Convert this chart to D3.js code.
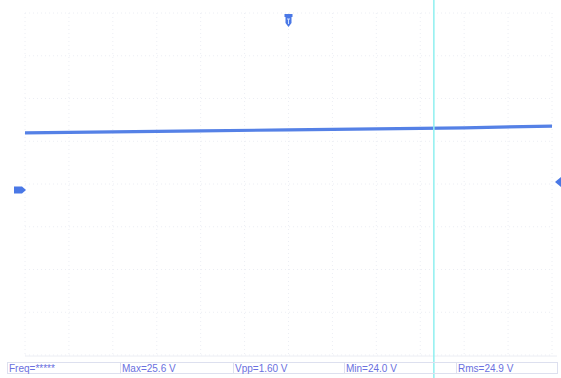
<!DOCTYPE html>
<html>
<head>
<meta charset="utf-8">
<script src="https://cdn.jsdelivr.net/npm/d3@7"></script>
<style>
  html, body { margin: 0; padding: 0; background: #fff; }
  svg { display: block; }
</style>
</head>
<body>
<div id="scope"></div>
<script>
// trace samples: time in divisions, level in volts (20 V/div, ground at marker)
const traceTime = [0, 2, 4, 6, 8, 10, 12];
const traceVolts = [26.7, 27.2, 27.7, 28.1, 28.6, 29.1, 29.9];

// bottom measurement readouts
const measLabels = ["Freq=*****", "Max=25.6 V", "Vpp=1.60 V", "Min=24.0 V", "Rms=24.9 V"];

const cursorTime = 9.31;   // vertical cursor, in divisions
const triggerTime = 6;     // trigger position marker

/* sizes */
const width = 561, height = 378;
const plot = {left: 25, right: 552, top: 13, bottom: 355};
const hDiv = 12, vDiv = 8;

const x = d3.scaleLinear().domain([0, hDiv]).range([plot.left, plot.right]);
// ground marker sits at y=190, 20 V per division
const voltsPerDiv = 20;
const divPx = (plot.bottom - plot.top) / vDiv;
const y = d3.scaleLinear()
  .domain([-(plot.bottom - 190) / divPx * voltsPerDiv, (190 - plot.top) / divPx * voltsPerDiv])
  .range([plot.bottom, plot.top]);

const svg = d3.select("#scope").append("svg")
  .attr("width", width)
  .attr("height", height);

/* grid - very faint dotted lines */
const grid = svg.append("g");
grid.selectAll("line.v")
  .data(d3.range(0, hDiv + 1))
  .enter().append("line")
  .attr("x1", d => x(d)).attr("x2", d => x(d))
  .attr("y1", plot.top).attr("y2", plot.bottom)
  .attr("stroke", "#eceef4")
  .attr("stroke-dasharray", "1,3");
grid.selectAll("line.h")
  .data(d3.range(0, vDiv + 1))
  .enter().append("line")
  .attr("x1", plot.left).attr("x2", plot.right)
  .attr("y1", d => plot.top + d * divPx).attr("y2", d => plot.top + d * divPx)
  .attr("stroke", "#eceef4")
  .attr("stroke-dasharray", "1,3");

svg.append("line")
  .attr("x1", plot.left).attr("x2", plot.right + 5)
  .attr("y1", plot.bottom + 1).attr("y2", plot.bottom + 1)
  .attr("stroke", "#eceef4");

/* trace */
const line = d3.line()
  .x((d, i) => x(traceTime[i]))
  .y(d => y(d));
svg.append("path")
  .datum(traceVolts)
  .attr("fill", "none")
  .attr("stroke", "#5581e6")
  .attr("stroke-width", 3.2)
  .attr("d", line);

/* cursor */
svg.append("line")
  .attr("x1", x(cursorTime)).attr("x2", x(cursorTime))
  .attr("y1", 0).attr("y2", height)
  .attr("stroke", "#8ff0f0")
  .attr("stroke-width", 1.5);

/* markers */
const blue = "#4a78e6";
const tx = x(triggerTime);
svg.append("path")
  .attr("d", `M${tx - 4},14 h8 v3 h-1 v6 l-3,4 l-3,-4 v-6 h-1 z`)
  .attr("fill", blue);
svg.append("path")
  .attr("d", `M${tx - 1.5},19 h3 M${tx},19 v5`)
  .attr("stroke", "#cfe0ff")
  .attr("stroke-width", 1);

const gy = y(0);
svg.append("path")
  .attr("d", `M14,${gy - 3.5} h8 l4,3.5 l-4,3.5 h-8 z`)
  .attr("fill", blue);
svg.append("path")
  .attr("d", `M555,${gy - 8} l6,-5 v10 z`)
  .attr("fill", blue);

/* measurement bar */
const boxX = [7, 120, 233, 344, 456, 557];
const bar = svg.append("g");
bar.selectAll("rect")
  .data(measLabels)
  .enter().append("rect")
  .attr("x", (d, i) => boxX[i] + 0.5)
  .attr("y", 362.5)
  .attr("width", (d, i) => boxX[i + 1] - boxX[i])
  .attr("height", 11)
  .attr("fill", "none")
  .attr("stroke", "#dde0ef");
bar.selectAll("text")
  .data(measLabels)
  .enter().append("text")
  .attr("x", (d, i) => boxX[i] + 2)
  .attr("y", 372)
  .attr("font-family", "Liberation Sans, Arial, sans-serif")
  .attr("font-size", 10)
  .attr("fill", "#6a70e0")
  .text(d => d);
</script>
</body>
</html>
